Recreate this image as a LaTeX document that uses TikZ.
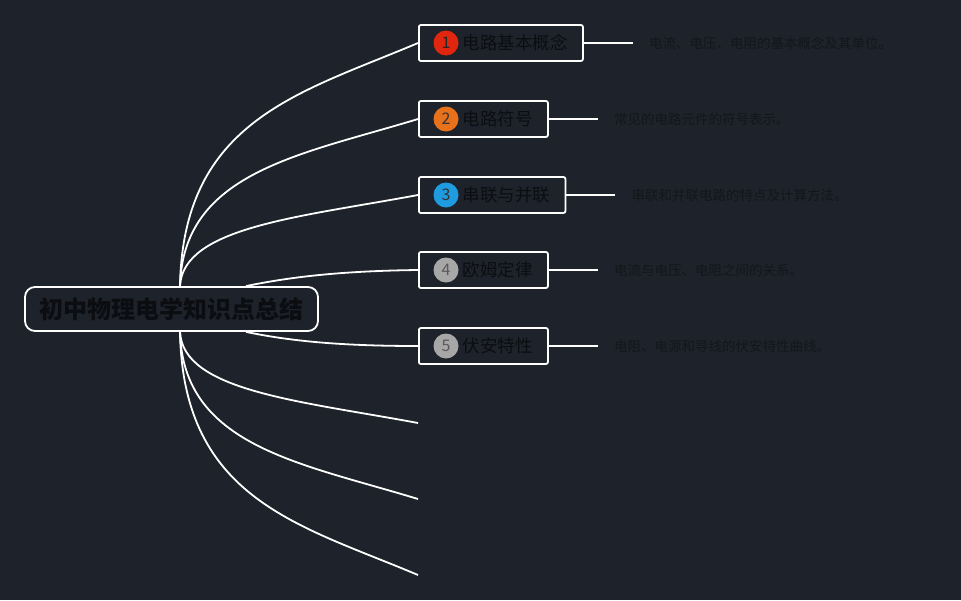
\documentclass[tikz,border=0pt]{standalone}
\usepackage{fontspec}
\setmainfont{Noto Sans CJK SC}
\usepackage{tikz}
\usetikzlibrary{positioning}
\definecolor{bgc}{HTML}{1E222A}
\definecolor{titlec}{HTML}{0B0D11}
\definecolor{descc}{HTML}{13161B}
\definecolor{cred}{HTML}{E1260F}
\definecolor{corange}{HTML}{E8711C}
\definecolor{cblue}{HTML}{1F9BE0}
\definecolor{cgrey}{HTML}{A7A7A7}
\newcommand{\linew}{1.8pt}
\newcommand{\numgap}{29pt}

\begin{document}
\begin{tikzpicture}[x=1pt,y=-1pt]
    %\draw[help lines] (0,0) grid (961,600);
        \fill[bgc] (0,0) rectangle (961,600);
        \useasboundingbox (0,0) rectangle (961,600);
        \tikzset{root/.style = {draw=white, line width=\linew, fill=bgc, rounded corners=10pt,
                minimum width=293pt, minimum height=44pt, inner sep=0pt, text=titlec,
                font=\bfseries\fontsize{24pt}{28pt}\selectfont}}
        \tikzset{topic/.style = {draw=white, line width=\linew, fill=bgc, rounded corners=2pt,
                minimum height=36pt, inner xsep=15pt, inner ysep=0pt, anchor=west, text=titlec,
                font=\fontsize{17.5pt}{20pt}\selectfont}}
        \tikzset{num/.style = {circle, minimum size=25pt, inner sep=0pt,
                font=\fontsize{16pt}{18pt}\selectfont}}
        \tikzset{desc/.style = {inner sep=0pt, text=descc, font=\fontsize{13.5pt}{16pt}\selectfont}}
        \tikzset{branch/.style = {draw=white, line width=\linew}}

        \node[root] (r) at (171.5,309) {初中物理电学知识点总结};

        \node[topic] (b1) at (418,43) {\hspace*{\numgap}电路基本概念};
        \node[topic] (b2) at (418,119) {\hspace*{\numgap}电路符号};
        \node[topic] (b3) at (418,195) {\hspace*{\numgap}串联与并联};
        \node[topic] (b4) at (418,270) {\hspace*{\numgap}欧姆定律};
        \node[topic] (b5) at (418,346) {\hspace*{\numgap}伏安特性};
        \coordinate (t6) at (418,423);
        \coordinate (t7) at (418,499);
        \coordinate (t8) at (418,575);

        \node[num, fill=cred, text=black!85] (n1) at ([xshift=28pt]b1.west) {1};
        \node[num, fill=corange, text=black!80] (n2) at ([xshift=28pt]b2.west) {2};
        \node[num, fill=cblue, text=black!80] (n3) at ([xshift=28pt]b3.west) {3};
        \node[num, fill=cgrey, text=black!65] (n4) at ([xshift=28pt]b4.west) {4};
        \node[num, fill=cgrey, text=black!65] (n5) at ([xshift=28pt]b5.west) {5};

        \coordinate[right=49pt of b1.east] (e1);
        \coordinate[right=49pt of b2.east] (e2);
        \coordinate[right=49pt of b3.east] (e3);
        \coordinate[right=49pt of b4.east] (e4);
        \coordinate[right=49pt of b5.east] (e5);
        \node[desc, right=16pt of e1] (d1) {电流、电压、电阻的基本概念及其单位。};
        \node[desc, right=16pt of e2] (d2) {常见的电路元件的符号表示。};
        \node[desc, right=16pt of e3] (d3) {串联和并联电路的特点及计算方法。};
        \node[desc, right=16pt of e4] (d4) {电流与电压、电阻之间的关系。};
        \node[desc, right=16pt of e5] (d5) {电阻、电源和导线的伏安特性曲线。};

        \draw[branch] ([xshift=8.5pt]r.north) .. controls (183,120) and (300,93) .. (b1.west);
        \draw[branch] ([xshift=8.5pt]r.north) .. controls (183,172) and (300,155) .. (b2.west);
        \draw[branch] ([xshift=8.5pt]r.north) .. controls (183,227) and (300,217) .. (b3.west);
        \draw[branch] ([xshift=74.5pt]r.north) .. controls (290,277) and (340,271) .. (b4.west);
        \draw[branch] ([xshift=74.5pt]r.south) .. controls (290,341) and (340,346) .. (b5.west);
        \draw[branch] ([xshift=8.5pt]r.south) .. controls (183,391) and (300,401) .. (t6);
        \draw[branch] ([xshift=8.5pt]r.south) .. controls (183,446) and (300,463) .. (t7);
        \draw[branch] ([xshift=8.5pt]r.south) .. controls (183,500) and (300,525) .. (t8);

        \draw[branch] (b1.east) -- (e1);
        \draw[branch] (b2.east) -- (e2);
        \draw[branch] (b3.east) -- (e3);
        \draw[branch] (b4.east) -- (e4);
        \draw[branch] (b5.east) -- (e5);

    \end{tikzpicture}
\end{document}
